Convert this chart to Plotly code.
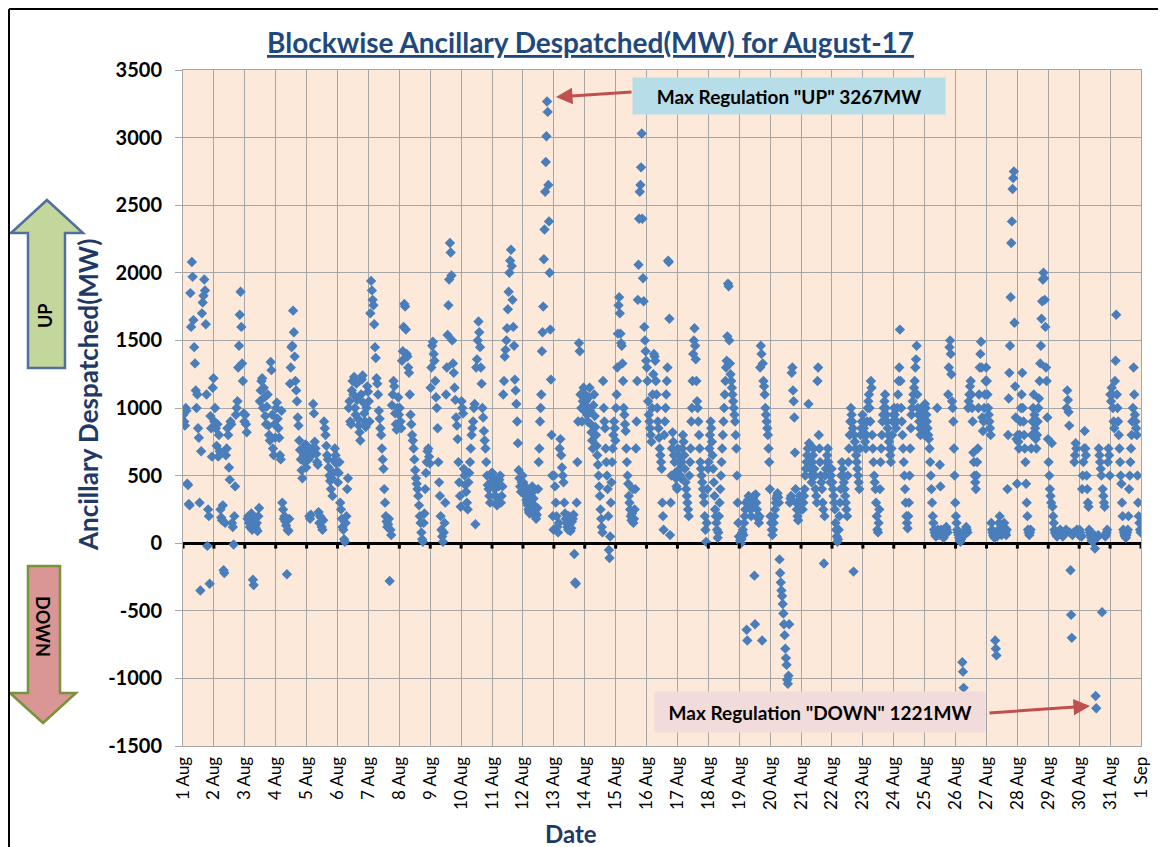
import pandas as pd
import plotly.graph_objects as go

# Blockwise ancillary despatch (MW), time-ordered within each day
aug01 = [950, 900, 870, 1000, 980, 440, 430, 290, 280, 1850, 1600, 2080, 1970, 1650, 1450, 1330, 1130, 1000, 1100, 850,
         780, 300, -350, 680, 1700, 1780, 1830, 1950, 1870, 1620, 1100, -20, 250, 200, -300, 940, 850, 640, 1150, 1220]
aug02 = [900, 1000, 850, 720, 880, 640, 800, 680, 250, 190, 170, 280, -200, -220, 150, 650, 700, 850, 800, 560,
         470, 900, 880, 150, 120, -10, 200, 420, 950, 1000, 1050, 1300, 1460, 1690, 1860, 1600, 1330, 1200, 960, 900]
aug03 = [950, 880, 820, 180, 200, 150, 120, 160, 220, 100, -270, -310, 180, 130, 110, 150, 90, 200, 260, 1050,
         1130, 1200, 1220, 1000, 1150, 1080, 940, 880, 1010, 1100, 870, 800, 760, 1340, 1280, 950, 700, 650, 880, 780]
aug04 = [1000, 1040, 920, 850, 780, 650, 620, 980, 300, 250, 180, 200, 160, 130, -230, 100, 90, 180, 1180, 1300,
         1450, 1460, 1720, 1560, 1380, 1200, 1130, 1050, 930, 870, 760, 690, 620, 540, 480, 700, 650, 600, 730, 560]
aug05 = [720, 680, 620, 200, 180, 210, 650, 700, 1030, 960, 750, 700, 660, 600, 580, 230, 150, 200, 190, 120,
         100, 170, 900, 850, 800, 720, 650, 620, 560, 500, 460, 400, 480, 350, 520, 610, 700, 650, 590, 530]
aug06 = [450, 520, 600, 300, 250, 180, 120, 100, 30, 10, 150, 200, 400, 480, 1000, 1050, 900, 880, 1130, 1200,
         1100, 1230, 1000, 950, 1180, 1060, 920, 870, 820, 760, 1100, 1210, 1240, 1040, 960, 900, 860, 1000, 1160, 1120]
aug07 = [1050, 900, 1700, 1940, 1870, 1800, 1760, 1620, 1450, 1370, 1220, 1180, 1100, 980, 920, 850, 800, 700, 620, 550,
         400, 300, 200, 160, 120, 140, 180, -280, 100, 60, 1020, 1100, 1200, 1160, 960, 880, 840, 1000, 1080, 950]
aug08 = [1000, 900, 850, 1350, 1420, 1600, 1770, 1750, 1580, 1400, 1380, 1300, 1260, 1100, 950, 880, 800, 760, 700, 620,
         540, 480, 440, 400, 350, 280, 200, 150, 80, 30, 10, 150, 220, 400, 520, 600, 680, 700, 640, 590]
aug09 = [1150, 1300, 1460, 1490, 1400, 1350, 1200, 1080, 1000, 850, 600, 450, 350, 200, 100, 50, 10, 80, 150, 300,
         1100, 1300, 1540, 1760, 1950, 2220, 2150, 1980, 1500, 1330, 1260, 1150, 1060, 930, 870, 770, 600, 450, 350, 270]
aug10 = [1050, 1000, 960, 550, 500, 430, 380, 300, 250, 450, 520, 600, 700, 800, 850, 900, 1000, 1030, 140, 1300,
         1360, 1500, 1640, 1560, 1450, 1300, 1180, 1000, 930, 830, 760, 700, 600, 500, 430, 400, 350, 300, 450, 520]
aug11 = [520, 480, 450, 400, 350, 300, 280, 330, 420, 470, 500, 300, 350, 420, 1100, 1200, 1380, 1430, 1500, 1590,
         1730, 1860, 2000, 2090, 2170, 2050, 1800, 1600, 1460, 1210, 1130, 1030, 900, 740, 540, 480, 420, 380, 450, 500]
aug12 = [450, 430, 400, 380, 350, 320, 300, 280, 250, 230, 220, 300, 350, 400, 420, 380, 330, 280, 230, 200,
         180, 210, 260, 400, 600, 700, 900, 1000, 1100, 1420, 1560, 1750, 2100, 2320, 2600, 2820, 3010, 3267, 3190, 2650,
         2380, 2000, 1580, 1210, 800, 500, 200, 100]
aug13 = [500, 420, 300, 200, 120, 80, 150, 700, 770, 650, 560, 500, 450, 300, 220, 180, 150, 120, 100, 200,
         140, 90, 110, 160, 180, 210, -80, -290, -300, 300, 600, 900, 1480, 1420, 1100, 1000, 900, 1050, 1150, 980]
aug14 = [1100, 1050, 1000, 950, 900, 1000, 1080, 1150, 980, 880, 820, 760, 700, 1020, 1100, 940, 860, 800, 720, 650,
         580, 500, 420, 350, 250, 180, 120, 80, 1200, 1000, 900, 850, 700, 600, 500, 400, 200, -50, -110, 50,
         300, 450, 600, 700, 800, 900, 850, 760]
aug15 = [1000, 1100, 1300, 1550, 1760, 1820, 1700, 1550, 1480, 1460, 1330, 1200, 1000, 950, 880, 830, 700, 600, 500, 440,
         350, 300, 250, 200, 170, 220, 400, 150, 180, 250, 400, 700, 900, 1200, 1800, 2060, 2400, 2600, 2650, 2780,
         3030, 2400, 1960, 1790, 1600, 1500, 1420, 1350]
aug16 = [1300, 1200, 1050, 950, 900, 850, 800, 750, 1000, 1100, 1250, 1400, 1380, 1350, 1200, 1100, 1000, 900, 850, 780,
         700, 650, 600, 550, 300, 200, 100, 800, 900, 1000, 1100, 1200, 1300, 2090, 2080, 1660, 60, 300, 500, 700,
         820, 750, 650, 600, 520, 480, 420, 400]
aug17 = [700, 650, 600, 550, 500, 480, 600, 700, 800, 750, 650, 550, 450, 400, 350, 300, 250, 200, 500, 600,
         700, 900, 1000, 1200, 1400, 1500, 1590, 1460, 1360, 1200, 1050, 1000, 900, 800, 700, 600, 550, 500, 450, 400,
         350, 300, 200, 100, 10, 150, 400, 550]
aug18 = [600, 700, 800, 900, 850, 750, 650, 550, 450, 350, 250, 200, 150, 100, 40, 80, 200, 300, 400, 500,
         600, 700, 800, 900, 1000, 1100, 1200, 1300, 1350, 1530, 1920, 1900, 1500, 1330, 1250, 1200, 1150, 1100, 1050, 1000,
         950, 900, 800, 700, 500, 300, 150, 50]
aug19 = [50, 20, 0, 30, 80, 100, 60, 150, 200, 250, 300, -640, -720, 320, 350, 300, 280, 250, 200, 260,
         300, 330, 350, -240, -600, 360, 300, 250, 200, 180, 150, 200, 1300, 1460, 1400, -720, 1330, 1200, 1160, 1100,
         1000, 950, 900, 850, 800, 700, 600, 400]
aug20 = [200, 150, 100, 60, 100, 150, 200, 250, 300, 330, 350, 370, 340, 300, -120, -220, -290, -350, -390, -450,
         -520, -600, -680, -780, -850, -900, -1010, -1040, -980, -600, 300, 330, 350, 1260, 1300, 1130, 1050, 930, 670, 400,
         300, 250, 200, 170, 300, 350, 280, 250]
aug21 = [300, 350, 250, 300, 350, 400, 500, 550, 600, 650, 700, 1030, 740, 600, 550, 500, 450, 600, 650, 700,
         550, 500, 400, 350, 300, 1200, 1300, 800, 700, 600, 500, 450, 400, 300, 250, -150, 200, 500, 550, 600,
         650, 700, 600, 550, 500, 450, 500, 550]
aug22 = [450, 400, 350, 300, 250, 150, 100, 50, 10, 30, 100, 200, 300, 400, 500, 600, 550, 500, 450, 400,
         350, 300, 250, 200, 500, 600, 700, 800, 900, 1000, 950, 900, 850, -210, 800, 750, 700, 650, 600, 550,
         500, 450, 400, 700, 800, 850, 900, 950]
aug23 = [900, 850, 800, 750, 700, 800, 900, 1000, 1050, 1100, 1000, 900, 1200, 1150, 800, 700, 600, 500, 450, 400,
         300, 200, 100, 80, 150, 250, 400, 600, 700, 800, 900, 950, 1000, 1050, 1100, 1000, 950, 900, 850, 800,
         750, 700, 650, 600, 700, 800, 900, 950]
aug24 = [1000, 950, 900, 850, 900, 1000, 1100, 1200, 1300, 1580, 1200, 1000, 900, 800, 700, 600, 500, 400, 300, 200,
         150, 110, 200, 300, 500, 700, 850, 950, 1000, 1050, 1100, 1150, 1200, 1300, 1360, 1460, 1100, 1000, 950, 900,
         850, 800, 900, 1000, 950, 900, 850, 800]
aug25 = [1030, 1000, 950, 900, 850, 800, 770, 700, 600, 500, 400, 300, 200, 150, 100, 80, 60, 50, 70, 1000,
         100, 80, 60, 580, 420, 100, 80, 60, 50, 40, 60, 80, 100, 120, 100, 80, 1100, 1300, 1450, 1500,
         1400, 1250, 1050, 1000, 900, 700, 500, 300]
aug26 = [200, 150, 100, 80, 60, 40, 20, 10, 30, 50, -880, -950, -1070, 60, 80, 100, 120, 100, 80, 1000,
         1050, 1100, 1160, 1200, 1100, 1000, 900, 670, 600, 500, 450, 400, 500, 600, 700, 1000, 1100, 1300, 1400, 1490,
         1300, 930, 830, 900, 1000, 1100, 1200, 1300]
aug27 = [1200, 1100, 1000, 950, 900, 850, 800, 150, 100, 80, 60, 50, 40, -720, -780, -830, 50, 80, 100, 150,
         200, 100, 80, 60, 80, 100, 120, 150, 100, 80, 60, 100, 400, 800, 1070, 1260, 1460, 1820, 2220, 2380,
         2620, 2700, 2750, 1630, 1160, 930, 770, 440]
aug28 = [800, 750, 700, 800, 900, 1000, 1100, 1260, 1000, 900, 800, 700, 600, 440, 300, 200, 100, 80, 60, 80,
         100, 700, 800, 900, 1000, 1100, 950, 850, 770, 700, 800, 900, 1000, 1070, 1200, 1330, 1460, 1660, 1790, 1950,
         2000, 1960, 1800, 1600, 1300, 1200, 930, 770]
aug29 = [600, 500, 400, 350, 300, 740, 270, 200, 150, 100, 80, 70, 60, 50, 60, 70, 80, 90, 100, 80,
         70, 60, 50, 60, 70, 80, 90, 100, 1000, 1130, 1060, 970, 870, 80, -200, -530, -700, 60, 70, 80,
         600, 650, 740, 700, 100, 80, 70, 60]
aug30 = [100, 80, 60, 50, 400, 500, 600, 700, 830, 700, 650, 500, 400, 300, 270, 100, 80, 60, 40, 20,
         10, 30, 50, 60, -40, -1130, -1221, 40, 50, 60, 700, 650, 600, 550, 500, -510, 400, 350, 300, 270,
         50, 60, 80, 100, 600, 700, 650, 500]
aug31 = [1100, 1050, 1150, 1100, 1000, 900, 850, 1200, 1350, 1690, 1100, 1000, 900, 800, 700, 600, 500, 440, 300, 200,
         100, 80, 60, 50, 40, 60, 80, 100, 200, 400, 500, 600, 700, 800, 900, 1000, 1300, 1100, 950, 900,
         850, 800, 500, 300, 200, 150, 100, 80]

daily = [aug01, aug02, aug03, aug04, aug05, aug06, aug07, aug08, aug09, aug10, aug11, aug12, aug13, aug14, aug15, aug16,
         aug17, aug18, aug19, aug20, aug21, aug22, aug23, aug24, aug25, aug26, aug27, aug28, aug29, aug30, aug31]

y_ticks = [-1500, -1000, -500, 0, 500, 1000, 1500, 2000, 2500, 3000, 3500]
y_labels = [str(v) for v in y_ticks]
start = pd.Timestamp("2017-08-01")
end = pd.Timestamp("2017-09-01")

# spread each day's blocks evenly over the day
times, values = [], []
for d, vals in enumerate(daily):
    n = len(vals)
    for i, v in enumerate(vals):
        times.append(start + pd.Timedelta(days=d) + pd.Timedelta(days=(i + 0.5) / n))
        values.append(v)

# the page adds an 8px body margin, so work in page pixels and shift
OFF = 8
L, R, T, B = 183 - OFF, 1141 - OFF, 70 - OFF, 746 - OFF
W, H = 1166, 847
def px(x):
    return (x - OFF - L) / (R - L)
def py(y):
    return (B - (y - OFF)) / (B - T)

fig = go.Figure()
fig.add_trace(go.Scatter(
    x=times, y=values, mode="markers",
    marker=dict(symbol="diamond", size=8, color="#4A7EBB"),
    hoverinfo="x+y", showlegend=False,
))

font = "Lato, Calibri, 'Open Sans', sans-serif"

fig.update_layout(
    width=W, height=H,
    margin=dict(l=L, r=W - R, t=T, b=H - B),
    paper_bgcolor="white",
    plot_bgcolor="#FDE9D9",
    font=dict(family=font, color="black"),
    xaxis=dict(
        type="date", range=[start, end], tick0=start, dtick=86400000,
        tickformat="%-d %b", tickangle=-90, tickfont=dict(size=17), ticklabelstandoff=3,
        showgrid=True, gridcolor="#A6A6A6", gridwidth=1,
        showline=True, linecolor="#A6A6A6", mirror=True,
        ticks="", zeroline=False,
    ),
    yaxis=dict(
        range=[-1500, 3500], tickvals=y_ticks, ticktext=y_labels,
        tickfont=dict(size=20, weight="bold"),
        showgrid=True, gridcolor="#A6A6A6", gridwidth=1,
        showline=True, linecolor="#A6A6A6", mirror=True,
        ticks="outside", ticklen=7, tickcolor="#A6A6A6", ticklabelstandoff=9,
        zeroline=True, zerolinecolor="black", zerolinewidth=3,
    ),
)

# small black ticks hanging off the zero line, one per day
shapes = []
for d in range(len(daily) + 1):
    t = start + pd.Timedelta(days=d)
    shapes.append(dict(type="line", xref="x", yref="y", x0=t, x1=t, y0=0, y1=-40,
                       line=dict(color="black", width=3)))

# UP / DOWN block arrows at the left
up_pts = [(47, 200), (83, 233), (65, 233), (65, 368), (28, 368), (28, 233), (11, 233)]
down_pts = [(28, 566), (60, 566), (60, 693), (76, 693), (43, 723), (10, 693), (28, 693)]
def path(pts):
    return "M " + " L ".join(f"{px(a):.4f},{py(b):.4f}" for a, b in pts) + " Z"
shapes.append(dict(type="path", xref="paper", yref="paper", path=path(up_pts),
                   fillcolor="#C3D69B", line=dict(color="#4F6F9F", width=2.5)))
shapes.append(dict(type="path", xref="paper", yref="paper", path=path(down_pts),
                   fillcolor="#D99694", line=dict(color="#77933C", width=2.5)))

# outer frame (left and top edges)
shapes.append(dict(type="line", xref="paper", yref="paper", x0=px(9), x1=px(9), y0=py(9), y1=py(900),
                   line=dict(color="black", width=2)))
shapes.append(dict(type="line", xref="paper", yref="paper", x0=px(9), x1=px(1200), y0=py(9), y1=py(9),
                   line=dict(color="black", width=2)))
fig.update_layout(shapes=shapes)

ann = []
ann.append(dict(xref="paper", yref="paper", x=px(590), y=py(42), xanchor="center", yanchor="middle",
                text="<b>Blockwise Ancillary Despatched(MW) for August-17</b>", showarrow=False,
                font=dict(size=28, color="#1F497D", lineposition="under")))
ann.append(dict(xref="paper", yref="paper", x=px(88), y=py(395), xanchor="center", yanchor="middle",
                text="<b>Ancillary Despatched(MW)</b>", textangle=-90, showarrow=False,
                font=dict(size=26, color="#1F3864")))
ann.append(dict(xref="paper", yref="paper", x=px(571), y=py(833), xanchor="center", yanchor="middle",
                text="<b>Date</b>", showarrow=False, font=dict(size=24, color="#1F3864")))
ann.append(dict(xref="paper", yref="paper", x=px(45), y=py(316), xanchor="center", yanchor="middle",
                text="<b>UP</b>", textangle=-90, showarrow=False, font=dict(size=18)))
ann.append(dict(xref="paper", yref="paper", x=px(43), y=py(626), xanchor="center", yanchor="middle",
                text="<b>DOWN</b>", textangle=90, showarrow=False, font=dict(size=18)))
# callout boxes
ann.append(dict(xref="paper", yref="paper", x=px(789), y=py(96), xanchor="center", yanchor="middle",
                text="<b>Max Regulation \"UP\" 3267MW</b>", showarrow=False, width=312, height=36,
                bgcolor="#B7DDE8", borderpad=0, font=dict(size=19)))
ann.append(dict(xref="paper", yref="paper", x=px(820), y=py(712), xanchor="center", yanchor="middle",
                text="<b>Max Regulation \"DOWN\" 1221MW</b>", showarrow=False, width=330, height=40,
                bgcolor="#F2DCDB", borderpad=0, font=dict(size=19)))
# red arrows
ann.append(dict(xref="paper", yref="paper", x=px(556), y=py(97), ax=77, ay=-5, text="", showarrow=True,
                arrowhead=2, arrowsize=1.1, arrowwidth=3, arrowcolor="#C0504D"))
ann.append(dict(xref="paper", yref="paper", x=px(1090), y=py(706), ax=-102, ay=7, text="", showarrow=True,
                arrowhead=2, arrowsize=1.1, arrowwidth=3, arrowcolor="#C0504D"))
fig.update_layout(annotations=ann)

fig.write_html("out.html")
